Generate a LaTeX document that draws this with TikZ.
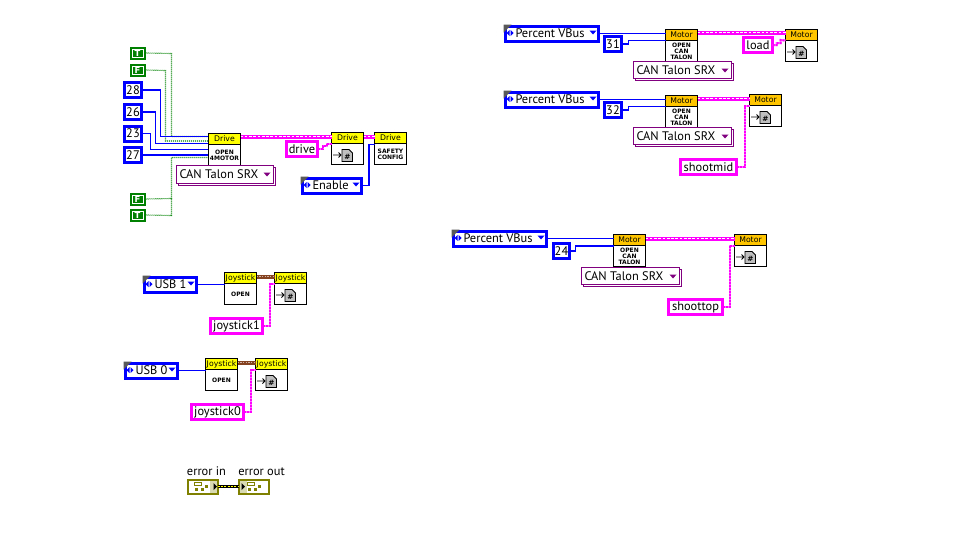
\documentclass[tikz,border=0pt]{standalone}
\usepackage{fontspec}
\usetikzlibrary{calc}
\setmainfont{PT Sans}
\newfontfamily\pixfont{DejaVu Sans}
\definecolor{lvblue}{RGB}{0,0,255}
\definecolor{lvgreen}{RGB}{0,128,0}
\definecolor{lvpink}{RGB}{255,0,255}
\definecolor{lvpurple}{RGB}{128,0,128}
\definecolor{lvbrown}{RGB}{132,66,33}
\definecolor{lvolive}{RGB}{128,128,0}
\definecolor{lvyellow}{RGB}{255,255,0}
\definecolor{lvorange}{RGB}{255,198,0}
\tikzset{
  every node/.style={inner sep=0pt,outer sep=0pt,font=\fontsize{9.3}{11}\selectfont},
  blk/.style={draw=black,line width=.75pt,fill=white},
  vibody/.style={blk,minimum width=24pt,minimum height=24pt},
  vihead/.style={draw=black,line width=.75pt,minimum width=24pt,minimum height=8.25pt,font=\pixfont\fontsize{5.8}{6}\selectfont},
  vitext/.style={align=center,font=\pixfont\bfseries\fontsize{4.5}{4.5}\selectfont},
  numc/.style={draw=lvblue,line width=2.25pt,fill=white,minimum height=11.25pt,anchor=north west},
  enumc/.style={draw=lvblue,line width=2.25pt,fill=white,minimum height=11.25pt,anchor=north west},
  indc/.style={draw=lvpink,line width=2.25pt,fill=white,minimum height=11.25pt,anchor=north west},
  boolc/.style={fill=lvgreen,minimum width=12pt,minimum height=9.75pt,anchor=north west},
  errc/.style={draw=lvolive,line width=1.5pt,fill=white,minimum width=22.5pt,minimum height=10.5pt,anchor=north west},
  bwire/.style={draw=lvblue,line width=.85pt},
  gwire/.style={draw=lvgreen,line width=.85pt,dash pattern=on .75pt off .75pt},
  thin pink/.style={draw=lvpink!55,line width=1.5pt,postaction={draw=lvpink,line width=1.5pt,dash pattern=on 1.5pt off .75pt}},
  classwire/.style={draw=lvpink,line width=3pt,postaction={draw=white,line width=.6pt,dash pattern=on 2pt off 1.2pt}},
  brownwire/.style={draw=lvbrown,line width=3pt,postaction={draw=white!60!lvbrown,line width=.6pt,dash pattern=on 1.2pt off .8pt}},
}
\newcommand{\vicon}[6]{% name, x, y (top-left), head colour, head text, body text
  \node[vibody,anchor=north west] (#1) at (#2,#3) {};
  \node[vihead,fill=#4,anchor=north] (#1-head) at (#1.north) {#5};
  \node[vitext,anchor=center] at ($(#1.south)!0.5!(#1-head.south)$) {#6};
}
\newcommand{\viref}[5]{% name, x, y, head colour, head text
  \node[vibody,anchor=north west] (#1) at (#2,#3) {};
  \node[vihead,fill=#4,anchor=north] (#1-head) at (#1.north) {#5};
  \draw[black,line width=.6pt] ([shift={(1.5,-9.5)}]#1.south west) -- ++(8,0) ++(-2.5,-2.5) -- ++(2.5,2.5) -- ++(-2.5,2.5);
  \fill[black!25,draw=black,line width=.6pt] ([shift={(10.5,-15)}]#1.south west) -- ++(7,0) -- ++(3.5,3.5) -- ++(0,8.5) -- ++(-10.5,0) -- cycle;
  \node[font=\pixfont\bfseries\fontsize{5.5}{6}\selectfont] at ([shift={(16,-7.5)}]#1.south west) {\#};
}
\newcommand{\enumk}[5]{% name, x, y (top-left), width px, text
  \node[enumc,minimum width=#4*0.75pt-2.25pt] (#1) at (#2+1.5,#3+1.5) {};
  \fill[black!65] (#2,#3) -- ++(8,0) -- ++(-8,8) -- cycle;
  \fill[lvblue] (#2+3,#3+8.5) -- ++(3,-3) -- ++(0,6) -- cycle;
  \fill[lvblue] (#2+10,#3+8.5) -- ++(-3,-3) -- ++(0,6) -- cycle;
  \node[anchor=west] at (#2+12,#3+8.5) {#5};
  \fill[lvblue] (#2+#4-10,#3+6) -- ++(7,0) -- ++(-3.5,4) -- cycle;
}
\newcommand{\ringk}[6]{% name, x, y, w, h, text
  \draw[lvpurple,line width=.75pt,fill=white] (#2+2,#3+2) rectangle (#2+#4+2,#3+#5+2);
  \node[draw=lvpurple,line width=.75pt,fill=white,minimum width=#4*0.75pt,minimum height=#5*0.75pt,anchor=north west] (#1) at (#2,#3) {};
  \node[anchor=west] at (#2+3,#3+#5/2) {#6};
  \fill[lvpurple] (#2+#4-10,#3+7) -- ++(7,0) -- ++(-3.5,4) -- cycle;
}
\newcommand{\boolk}[4]{% name,x,y,letter
  \node[boolc] (#1) at (#2,#3) {};
  \fill[white] (#2+2,#3+2) rectangle (#2+14,#3+11);
  \fill[lvgreen] (#2+3,#3+3) rectangle (#2+13,#3+10);
  \node[font=\pixfont\bfseries\fontsize{6.3}{6}\selectfont,text=white] at (#1.center) {#4};
}
\begin{document}
\begin{tikzpicture}[x=0.75pt,y=-0.75pt]
\useasboundingbox (-0.5,-0.5) rectangle (971.5,538.5);
% ---- Drive group
\boolk{tt}{129}{46}{T}
\boolk{tf}{129}{63}{F}
\node[numc,minimum width=12.75pt] (n28) at (124,82) {28};
\node[numc,minimum width=12.75pt] (n26) at (124,104) {26};
\node[numc,minimum width=12.75pt] (n23) at (124,125.5) {23};
\node[numc,minimum width=12.75pt] (n27) at (124,147) {27};
\boolk{bf}{129}{192}{F}
\boolk{bt}{129}{208}{T}
\draw[gwire] (tt.east) -- (171,53) -- (171,136) -- (208,136);
\draw[gwire] (tf.east) -- (165,70) -- (165,140.5) -- (208,140.5);
\draw[gwire] (bf.east) -- (171,198) -- (171,157) -- (208,157);
\draw[gwire] (bt.east) -- (171,215) -- (171,198);
\draw[bwire] (n28.east) -- (160,89.5) -- (160,136) -- (208,136);
\draw[bwire] (n26.east) -- (155,111.5) -- (155,143) -- (208,143);
\draw[bwire] (n23.east) -- (150,133) -- (150,149) -- (208,149);
\draw[bwire] (n27.east) -- (208,154.5);
\vicon{drv}{208}{133}{lvyellow}{Drive}{OPEN\\4MOTOR}
\ringk{drvring}{176}{165}{97}{18}{CAN Talon SRX}
\node[indc,minimum width=23.25pt] (drivei) at (286,141) {drive};
\viref{drvref}{331}{132}{lvyellow}{Drive}
\vicon{safety}{374}{132}{lvyellow}{Drive}{SAFETY\\CONFIG}
\enumk{enab}{300}{176}{62}{Enable}
\draw[classwire] (drv.east |- 0,136) -- (drvref.west |- 0,136);
\draw[classwire] (drvref.east |- 0,136) -- (safety.west |- 0,136);
\draw[thin pink] (drivei.east) -- ++(5,0) -- ++(0,-3) -- ++(4,0) -- ++(0,-2.5) -- (drvref.west |- 0,143);
\draw[bwire] (enab.east) -- ++(8,0) |- (safety.west |- 0,144);
% ---- Joysticks
\enumk{usba}{142}{275}{55}{USB 1}
\vicon{joya}{224}{272}{lvyellow}{Joystick}{OPEN}
\viref{joyaref}{274}{272}{lvyellow}{Joystick}
\node[indc,minimum width=39pt] (ja) at (210,318) {joystick1};
\draw[bwire] (usba.east) -- (joya.west |- usba.east);
\draw[brownwire] (joya.east |- 0,276) -- (joyaref.west |- 0,276);
\draw[thin pink] (ja.east) -- ++(7,0) |- (joyaref.west |- 0,283);
\enumk{usbb}{123}{361}{55}{USB 0}
\vicon{joyb}{205}{358}{lvyellow}{Joystick}{OPEN}
\viref{joybref}{255}{358}{lvyellow}{Joystick}
\node[indc,minimum width=39pt] (jb) at (191,404) {joystick0};
\draw[bwire] (usbb.east) -- (joyb.west |- usbb.east);
\draw[brownwire] (joyb.east |- 0,362) -- (joybref.west |- 0,362);
\draw[thin pink] (jb.east) -- ++(7,0) |- (joybref.west |- 0,369);
% ---- Errors
\node[errc] (ein) at (187,479) {};
\node[errc] (eout) at (238,479) {};
\node at (206,471) {error in};
\node at (261,471) {error out};
\draw[draw=black,line width=2.2pt] (ein.east) -- (eout.west);
\draw[draw=lvyellow,line width=.8pt,dash pattern=on 1.5pt off 1pt] (ein.east) -- (eout.west);
\fill[lvolive!30] ([shift={(-8,-6)}]ein.east) rectangle ([shift={(-1,6)}]ein.east);
\fill[lvolive!30] ([shift={(1,-6)}]eout.west) rectangle ([shift={(8,6)}]eout.west);
\fill[black] ([shift={(-4,-3.5)}]ein.east) -- ++(0,7) -- ++(3.5,-3.5) -- cycle;
\fill[black] ([shift={(3,-3.5)}]eout.west) -- ++(0,7) -- ++(3.5,-3.5) -- cycle;
\foreach \n/\d in {ein/7,eout/9}{
  \draw[lvolive,line width=.7pt,fill=white] ([shift={(\d,3)}]\n.north west) rectangle ++(7,3);
  \fill[lvolive] ([shift={(\d,8)}]\n.north west) rectangle ++(3,3);
  \fill[lvolive] ([shift={(\d+6,8)}]\n.north west) rectangle ++(3,3);
  \fill[lvolive] ([shift={(\d+10,5)}]\n.north west) rectangle ++(3,3);
}
% ---- Motors
\enumk{pva}{503}{24}{96}{Percent VBus}
\node[numc,minimum width=12.75pt] (n31) at (604,36) {31};
\vicon{ma}{665}{29}{lvorange}{Motor}{OPEN\\CAN\\TALON}
\ringk{ra}{633}{61}{98}{17}{CAN Talon SRX}
\viref{maref}{785}{29}{lvorange}{Motor}
\node[indc,minimum width=21.75pt] (load) at (743,37) {load};
\draw[bwire] (pva.east) -- (ma.west |- pva.east);
\draw[bwire] (n31.east) -- ++(7,0) |- (ma.west |- 0,40);
\draw[classwire] (ma.east |- 0,32) -- (maref.west |- 0,32);
\draw[thin pink] (load.east) -- ++(4,0) -- ++(0,-2) -- ++(4,0) -- ++(0,-3) -- (maref.west |- 0,40);
\enumk{pvb}{503}{90}{96}{Percent VBus}
\node[numc,minimum width=12.75pt] (n32) at (604,102) {32};
\vicon{mb}{665}{95}{lvorange}{Motor}{OPEN\\CAN\\TALON}
\ringk{rb}{633}{127}{98}{17}{CAN Talon SRX}
\viref{mbref}{749}{94}{lvorange}{Motor}
\node[indc,minimum width=42pt] (smid) at (680,159) {shootmid};
\draw[bwire] (pvb.east) -- (mb.west |- pvb.east);
\draw[bwire] (n32.east) -- ++(7,0) |- (mb.west |- 0,106);
\draw[classwire] (mb.east |- 0,98) -- (mbref.west |- 0,98);
\draw[thin pink] (smid.east) -- ++(8,0) |- (mbref.west |- 0,105);
\enumk{pvc}{451}{229}{96}{Percent VBus}
\node[numc,minimum width=12pt] (n24) at (553,243) {24};
\vicon{mc}{613}{234}{lvorange}{Motor}{OPEN\\CAN\\TALON}
\ringk{rc}{581}{267}{98}{17}{CAN Talon SRX}
\viref{mcref}{734}{234}{lvorange}{Motor}
\node[indc,minimum width=40.5pt] (stop) at (668,299) {shoottop};
\draw[bwire] (pvc.east) -- (mc.west |- pvc.east);
\draw[bwire] (n24.east) -- ++(6,0) |- (mc.west |- 0,245.5);
\draw[classwire] (mc.east |- 0,238) -- (mcref.west |- 0,238);
\draw[thin pink] (stop.east) -- ++(7,0) |- (mcref.west |- 0,245);
\end{tikzpicture}
\end{document}
